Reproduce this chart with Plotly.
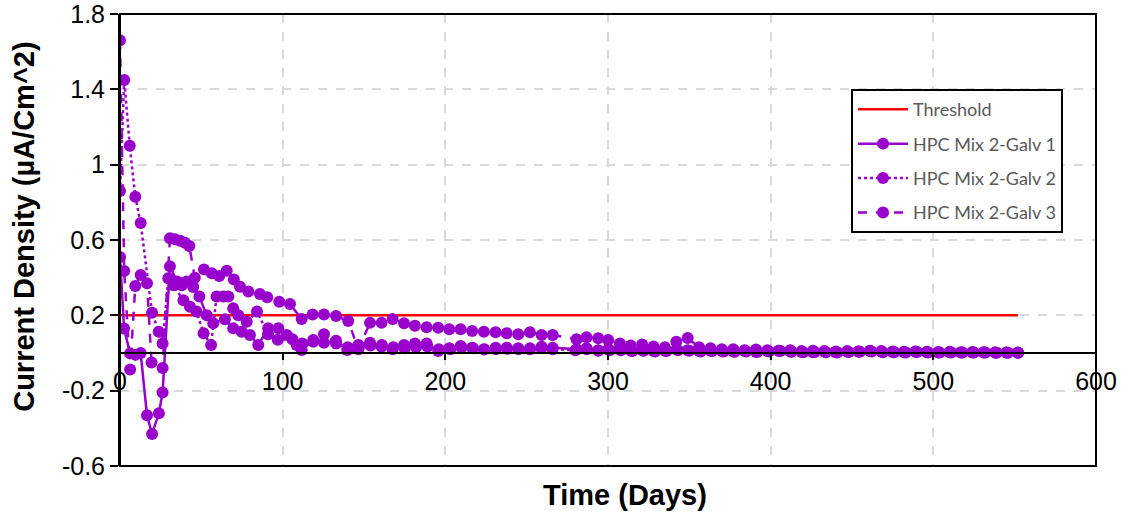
import plotly.graph_objects as go

# Threshold level (µA/cm^2) and the span over which it is drawn
threshold_days = [0, 552]
threshold_vals = [0.2, 0.2]

# HPC Mix 2 - Galv 1
galv1_days = [0, 2.5, 6.2, 9.5, 12.7, 16.6, 19.7, 23.9, 26.2, 30.7, 35, 38, 41, 45, 48.8,
              53.3, 57.3, 64.5, 69.6, 74.8, 79.9, 85, 91.1, 97.3, 102.5, 108.6, 111.7, 118.8,
              125.4, 132.8, 139.7, 146.5, 153.7, 160.8, 167.6, 174.6, 181.3, 188.5, 195.6, 202.4,
              209.4, 216.5, 223.7, 230.9, 237.7, 244.8, 252, 259.2, 266, 280.7, 286.8, 294, 300.1,
              307, 314, 321, 328, 335, 342, 349, 356, 363, 370, 377, 384, 391, 398, 405, 412, 419,
              426, 433, 440, 447, 454, 461, 468, 475, 482, 489, 496, 503, 510, 517, 524, 531, 538,
              545, 552]
galv1_vals = [0.51, 0.13, -0.002, -0.01, 0.0, -0.33, -0.43, -0.32, -0.21, 0.46, 0.38, 0.36, 0.38, 0.35, 0.30,
              0.20, 0.158, 0.179, 0.131, 0.113, 0.096, 0.042, 0.131, 0.131, 0.096, 0.042, 0.016, 0.069,
              0.055, 0.065, 0.016, 0.042, 0.055, 0.033, 0.02, 0.042, 0.05, 0.05, 0.01, 0.025,
              0.037, 0.028, 0.02, 0.028, 0.028, 0.025, 0.025, 0.033, 0.028, 0.02, 0.025, 0.015, 0.02,
              0.02, 0.012, 0.015, 0.01, 0.012, 0.02, 0.015, 0.01, 0.012, 0.01, 0.008, 0.01, 0.005, 0.01,
              0.012, 0.008, 0.005, 0.004, 0.006, 0.004, 0.006, 0.008, 0.01, 0.006, 0.005, 0.004,
              0.006, 0.004, 0.002, 0.004, 0.003, 0.002, 0.003, 0.002, 0.002, 0.001]

# HPC Mix 2 - Galv 2
galv2_days = [0, 2.6, 6, 9.4, 12.7, 19.7, 23.8, 26.2, 29.7, 32.8, 39, 43, 47, 51.4, 56, 59.4, 63.5,
              66.6, 69.6, 72.7, 77.9, 84.2, 91, 97, 106, 112, 118.8, 125.4, 132.8, 140, 147, 154,
              161, 168, 175, 182, 189, 196, 203, 210, 217, 224, 231, 238, 245, 252, 259, 266, 280,
              287, 294, 301, 308, 315, 322, 329, 336, 343, 350, 357, 364, 371, 378, 385, 392, 399,
              406, 413, 420, 427, 434, 441, 448, 455, 462, 469, 476, 483, 490, 497, 504, 511, 518,
              525, 532, 539, 546, 552]
galv2_vals = [0.86, 1.45, 1.10, 0.83, 0.69, 0.214, 0.113, 0.05, 0.397, 0.36, 0.28, 0.246, 0.22, 0.105, 0.042,
              0.30, 0.30, 0.30, 0.237, 0.20, 0.166, 0.22, 0.10, 0.07, 0.073, 0.05, 0.06, 0.10, 0.05,
              0.03, 0.035, 0.04, 0.042, 0.03, 0.025, 0.03, 0.035, 0.02, 0.02, 0.03, 0.025, 0.018,
              0.02, 0.022, 0.02, 0.02, 0.025, 0.02, 0.015, 0.02, 0.012, 0.015, 0.015, 0.01, 0.012,
              0.008, 0.01, 0.015, 0.012, 0.008, 0.01, 0.008, 0.006, 0.008, 0.006, 0.008, 0.01, 0.006,
              0.004, 0.005, 0.004, 0.003, 0.005, 0.006, 0.008, 0.004, 0.004, 0.003, 0.005, 0.003,
              0.002, 0.003, 0.002, 0.002, 0.002, 0.001, 0.001, 0.001]

# HPC Mix 2 - Galv 3
galv3_days = [0, 2.6, 6.2, 9.4, 12.7, 16.6, 19.4, 26.2, 30.7, 33.8, 36.9, 39.9, 42.6, 46, 51.6,
              56.4, 61, 65.6, 70, 73.8, 78.9, 86, 90.5, 97.9, 104.5, 111.7, 118.4, 125.4, 132.8,
              140.3, 146.5, 153.7, 160.8, 167.6, 174.6, 181.3, 188.5, 195.6, 202.4, 209.4, 216.5,
              223.7, 230.9, 237.7, 244.8, 252, 259.2, 266, 280.7, 286.8, 294, 300.1, 307.3, 314,
              321, 328, 335, 342, 349, 356, 363, 370, 377, 384, 391, 398, 405, 412, 419, 426, 433,
              440, 447, 454, 461, 468, 475, 482, 489, 496, 503, 510, 517, 524, 531, 538, 545, 552]
galv3_vals = [1.66, 0.435, -0.087, 0.356, 0.414, 0.37, -0.05, -0.08, 0.609, 0.604, 0.596, 0.586, 0.568, 0.40,
              0.444, 0.423, 0.409, 0.437, 0.39, 0.352, 0.326, 0.313, 0.296, 0.272, 0.26, 0.18, 0.205,
              0.205, 0.196, 0.17, 0.02, 0.16, 0.16, 0.18, 0.158, 0.145, 0.137, 0.134, 0.126, 0.126,
              0.117, 0.113, 0.11, 0.105, 0.099, 0.11, 0.096, 0.096, 0.073, 0.083, 0.078, 0.069, 0.05,
              0.04, 0.045, 0.035, 0.03, 0.06, 0.08, 0.03, 0.025, 0.02, 0.02, 0.015, 0.018, 0.015,
              0.012, 0.015, 0.01, 0.012, 0.01, 0.008, 0.01, 0.008, 0.012, 0.01, 0.008, 0.006, 0.008,
              0.006, 0.005, 0.006, 0.004, 0.005, 0.004, 0.003, 0.003, 0.002]

y_ticks = [-0.6, -0.2, 0.2, 0.6, 1.0, 1.4, 1.8]
y_tick_text = ["-0.6", "-0.2", "0.2", "0.6", "1", "1.4", "1.8"]
x_ticks = [0, 100, 200, 300, 400, 500, 600]

PURPLE = "#9900CC"
AXIS_FONT = "Liberation Sans, Arial, sans-serif"

fig = go.Figure()

fig.add_trace(go.Scatter(
    x=threshold_days, y=threshold_vals, mode="lines", name="Threshold",
    line=dict(color="#FF0000", width=2.5), legendgroup="a"))

series = [
    ("HPC Mix 2-Galv 1", galv1_days, galv1_vals, "solid", "b"),
    ("HPC Mix 2-Galv 2", galv2_days, galv2_vals, "dot", "c"),
    ("HPC Mix 2-Galv 3", galv3_days, galv3_vals, "dash", "d"),
]
for name, xs, ys, dash, grp in series:
    fig.add_trace(go.Scatter(
        x=xs, y=ys, mode="lines+markers", name=name, legendgroup=grp,
        line=dict(color=PURPLE, width=2.5, dash=dash),
        marker=dict(color=PURPLE, size=12, line=dict(width=0))))

# Frame around the plotting area
fig.add_shape(type="rect", xref="paper", yref="paper", x0=0, x1=1, y0=0, y1=1,
              line=dict(color="black", width=2), layer="above")

fig.update_layout(
    width=1121, height=515,
    margin=dict(l=120, r=25, t=14, b=49),
    paper_bgcolor="white", plot_bgcolor="white",
    font=dict(family=AXIS_FONT, color="black"),
    showlegend=True,
    legend=dict(
        x=0.749, y=0.834, xanchor="left", yanchor="top",
        bgcolor="white", bordercolor="black", borderwidth=2,
        font=dict(family="Lato, Open Sans, sans-serif", size=18, color="#595959"),
        tracegroupgap=8, itemwidth=50,
    ),
    xaxis=dict(
        range=[0, 600], tickvals=x_ticks, anchor="free", position=0.25,
        showline=True, linecolor="black", linewidth=2,
        ticks="outside", ticklen=6, tickwidth=2, tickcolor="black",
        tickfont=dict(size=25, family=AXIS_FONT, color="black"),
        showgrid=True, gridcolor="#D9D9D9", gridwidth=1.5, griddash="dash",
        zeroline=False, automargin=False, ticklabeloverflow="allow",
    ),
    yaxis=dict(
        range=[-0.6, 1.8], tickvals=y_ticks, ticktext=y_tick_text,
        showline=True, linecolor="black", linewidth=2,
        ticks="outside", ticklen=8, tickwidth=2, tickcolor="black",
        tickfont=dict(size=25, family=AXIS_FONT, color="black"),
        showgrid=True, gridcolor="#D9D9D9", gridwidth=1.5, griddash="dash",
        zeroline=False, automargin=False, ticklabeloverflow="allow",
    ),
)

# Axis titles
fig.add_annotation(text="<b>Current Density (µA/Cm^2)</b>", xref="paper", yref="paper",
                   x=-0.098, y=0.53, xanchor="center", yanchor="middle", textangle=-90,
                   showarrow=False, font=dict(size=29, family=AXIS_FONT, color="black"))
fig.add_annotation(text="<b>Time (Days)</b>", xref="paper", yref="paper",
                   x=0.517, y=-0.064, xanchor="center", yanchor="middle", showarrow=False,
                   font=dict(size=29, family=AXIS_FONT, color="black"))

fig.write_html("out.html")
